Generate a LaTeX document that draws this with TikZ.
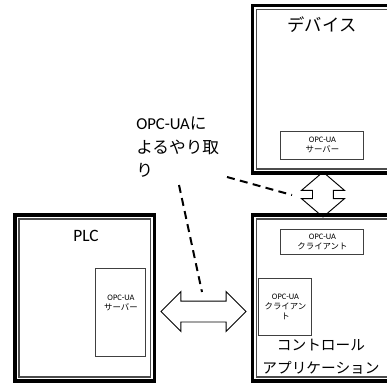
\documentclass[tikz,border=0pt]{standalone}
\usepackage{fontspec}
\setmainfont{Noto Sans CJK JP}
\newfontfamily\latinfont{Carlito}
\usetikzlibrary{shapes.arrows}

\begin{document}
\begin{tikzpicture}[
  x=0.75pt, y=-0.75pt,
  frame/.style={
    rectangle, draw, line width=2.6pt, minimum width=104.6pt, inner sep=0pt
  },
  frameline/.style={
    rectangle, draw=black!70, line width=0.8pt, minimum width=98.6pt, inner sep=0pt
  },
  unit/.style={
    rectangle, draw=black!75, line width=0.75pt, inner sep=0pt,
    font=\fontsize{6.3}{7.5}\selectfont, align=center
  },
  title/.style={font=\fontsize{13}{16}\selectfont},
  link/.style={
    double arrow, draw, line width=0.7pt, inner xsep=0pt, inner ysep=7.5pt,
    double arrow head indent=0pt
  },
  talk/.style={line width=1.5pt, dash pattern=on 6pt off 4pt}
]
\useasboundingbox (0,0) rectangle (387,383);

% Device (top right)
\node[frame, minimum height=125.6pt] (dev) at (322.25,89.25) {};
\node[frameline, minimum height=119.6pt] (devin) at (dev) {};
\node[title] (devtitle) at (322,25) {デバイス};
\node[unit, minimum width=62.25pt, minimum height=21pt] (devsrv) at (322.5,145)
  {{\latinfont OPC-UA}\\サーバー};

% Control application (bottom right)
\node[frame, minimum height=124.5pt] (app) at (322.25,298) {};
\node[frameline, minimum height=118.5pt] (appin) at (app) {};
\node[unit, minimum width=62.25pt, minimum height=18.75pt] (appcli) at (322.5,241.5)
  {{\latinfont OPC-UA}\\クライアント};
\node[unit, minimum width=39.75pt, minimum height=42.75pt] (plccli) at (285.5,306.5)
  {{\latinfont OPC-UA}\\クライアン\\ト};
\node[font=\fontsize{11}{17.25}\selectfont, align=center] (apptitle) at (321,357)
  {コントロール\\アプリケーション};

% PLC (bottom left)
\node[frame, minimum height=124.5pt] (plc) at (84.75,298) {};
\node[frameline, minimum height=118.5pt] (plcin) at (plc) {};
\node[title, font=\latinfont\fontsize{13}{16}\selectfont] (plctitle) at (86,236) {PLC};
\node[unit, minimum width=37.5pt, minimum height=66pt] (plcsrv) at (121,312) {};
\node[unit, draw=none] (plcsrvtxt) at (121,303) {{\latinfont OPC-UA}\\サーバー};

% Links
\node[link, minimum height=63.75pt, double arrow head extend=7.1pt]
  (harr) at (203.5,311.5) {};
\node[link, minimum height=33.75pt, double arrow head extend=8.25pt,
  double arrow tip angle=99, rotate=90] (varr) at (323,194.5) {};

% Label
\node[anchor=north west, inner sep=0pt, align=left,
  font=\fontsize{12.5}{17.6}\selectfont] (talklbl) at (136,117)
  {{\latinfont OPC-UA}に\\よるやり取\\り};
\coordinate (talka) at (179,185);
\coordinate (talkb) at (227,177);
\coordinate (harrtop) at (202,292);
\coordinate (varrleft) at (292,195);
\draw[talk] (talka) -- (harrtop);
\draw[talk] (talkb) -- (varrleft);
\end{tikzpicture}
\end{document}
